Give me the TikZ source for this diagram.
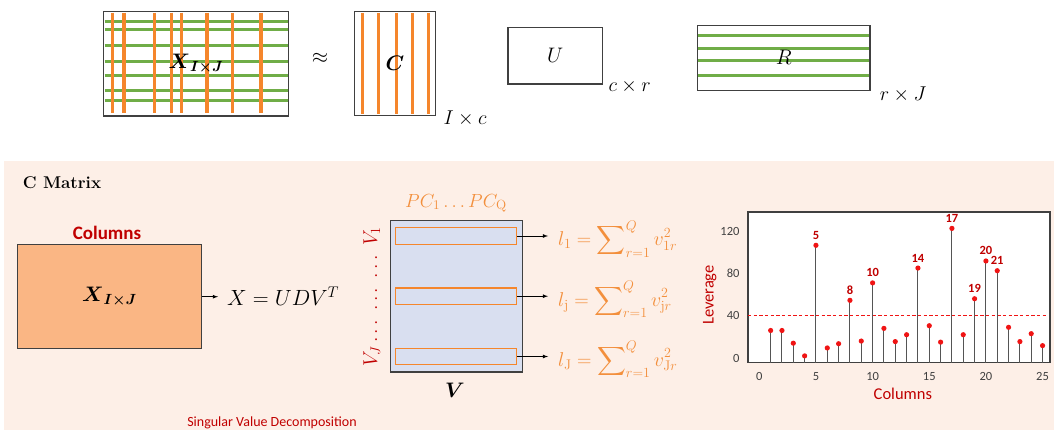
\RequirePackage{fix-cm}
\documentclass[tikz,border=0pt]{standalone}
\usepackage{amsmath, amssymb}
\usepackage{fontspec}
\setsansfont{Carlito}
\usetikzlibrary{positioning}

\definecolor{stripegreen}{RGB}{112,173,71}
\definecolor{stripeorange}{RGB}{245,134,44}
\definecolor{peach}{RGB}{253,239,231}
\definecolor{boxorange}{RGB}{250,182,132}
\definecolor{vblue}{RGB}{217,223,240}
\definecolor{darkred}{RGB}{192,0,0}
\definecolor{formorange}{RGB}{243,143,60}
\definecolor{framegray}{RGB}{64,64,64}
\definecolor{stemgray}{RGB}{85,85,85}
\definecolor{dotred}{RGB}{240,20,20}

\begin{document}
\begin{tikzpicture}[
    x=1pt, y=-1pt,
    matbox/.style={draw=framegray, line width=1.3pt, inner sep=0pt},
    greenline/.style={stripegreen, line width=3pt},
    orangeline/.style={stripeorange, line width=3.2pt},
    arrow/.style={-latex, line width=0.8pt},
    dimlabel/.style={font=\fontsize{20}{24}\selectfont, inner sep=0pt},
    bigmath/.style={font=\fontsize{21}{25}\selectfont},
    rowbox/.style={draw=stripeorange, line width=1.2pt, minimum width=121pt, minimum height=16.5pt, inner sep=0pt},
    lev/.style={text=formorange, font=\fontsize{20}{24}\selectfont, inner xsep=10pt, anchor=base west},
    redlabel/.style={text=darkred, font=\sffamily\bfseries\fontsize{12.5}{14}\selectfont},
    tick/.style={text=framegray, font=\sffamily\fontsize{12.5}{14}\selectfont},
    axislabel/.style={text=darkred, font=\sffamily\fontsize{16.5}{19}\selectfont},
    stem/.style={stemgray, line width=1pt},
    limitdash/.style={dotred, line width=1.1pt},
]
\useasboundingbox (0,0) rectangle (1054,430);

% top: X ~ C U R
\foreach \y in {22,29.3,46,61.3,76,90.3,100.7}
    \draw[greenline] (104.5,\y) -- (287.5,\y);
\foreach \x in {112.7,124,154.3,171.7,181.7,207,232.3,261}
    \draw[orangeline] (\x,12.7) -- (\x,113);
\node[matbox, bigmath, minimum width=185.4pt, minimum height=104.3pt] (X) at (196,63.9) {$\boldsymbol{X}_{\boldsymbol{I\times J}}$};
\node[bigmath] (approx) at (320,58) {$\approx$};

\foreach \x in {362.7,378.7,396.7,412.7,428.7}
    \draw[orangeline] (\x,13) -- (\x,114);
\node[matbox, bigmath, minimum width=81.4pt, minimum height=103.6pt] (C) at (395,63.5) {$\boldsymbol{C}$};
\node[dimlabel, right=7pt of C.south east, yshift=-3pt] (Cdim) {$I\times c$};

\node[matbox, bigmath, minimum width=94.7pt, minimum height=56.7pt] (U) at (555.3,55.7) {$U$};
\node[dimlabel, right=5pt of U.south east, yshift=-2pt] (Udim) {$c\times r$};

\foreach \y in {36,49,60.7,76}
    \draw[greenline] (698,\y) -- (869.3,\y);
\node[matbox, bigmath, minimum width=172.7pt, minimum height=65pt] (R) at (783.7,57.8) {$R$};
\node[dimlabel, right=9pt of R.south east, yshift=-3.5pt] (Rdim) {$r\times J$};

% bottom: C matrix selection
\fill[peach] (4,161) rectangle (1054,430);
\node[font=\bfseries\fontsize{17}{20}\selectfont] (title) at (62,183) {C Matrix};

\node[text=darkred, font=\sffamily\bfseries\fontsize{19}{22}\selectfont] (cols) at (107,232.7) {Columns};
\node[matbox, bigmath, fill=boxorange, minimum width=183.6pt, minimum height=104pt] (Xbox) at (109.5,296.7) {$\boldsymbol{X}_{\boldsymbol{I\times J}}$};
\node[font=\fontsize{22}{26}\selectfont, anchor=west, inner xsep=9pt] (svd) at (218,296.7) {$X = UDV^T$};
\draw[arrow] (Xbox) -- (svd);
\node[text=darkred, font=\sffamily\fontsize{14}{16}\selectfont] (svdname) at (272,423) {Singular Value Decomposition};

\node[matbox, fill=vblue, line width=1.5pt, minimum width=132pt, minimum height=151.3pt] (V) at (456.7,296.3) {};
\node[rowbox] (row1) at (456.2,236) {};
\node[rowbox] (row2) at (456.2,296.2) {};
\node[rowbox] (row3) at (456.2,356.5) {};
\node[lev] (lev1) at (548,246) {$l_1 = \displaystyle\sum\nolimits_{r=1}^{Q} v_{1r}^2$};
\node[lev] (lev2) at (548,306) {$l_{\mathrm{j}} = \displaystyle\sum\nolimits_{r=1}^{Q} v_{\mathrm{j}r}^2$};
\node[lev] (lev3) at (548,366) {$l_{\mathrm{J}} = \displaystyle\sum\nolimits_{r=1}^{Q} v_{\mathrm{J}r}^2$};
\foreach \i in {1,2,3}
    \draw[arrow] (row\i.east) -- (row\i.east -| lev\i.west);
\node[text=formorange, font=\fontsize{19}{22}\selectfont] (pc) at (456,203.3) {$PC_1 \ldots PC_{\mathrm{Q}}$};
\node[bigmath] (Vname) at (455,390) {$\boldsymbol{V}$};
\node[text=darkred, rotate=90, font=\fontsize{20}{24}\selectfont] (vrows) at (371.7,297) {$V_J \ldots\ \ldots\ \ldots\ V_1$};

% leverage plot
\begin{scope}[shift={(759.3,358)}, x=11.33pt, y=1.058pt]
    \draw[fill=white, draw=framegray, line width=1.2pt] (-1.0,-4.4) rectangle (25.65,138);
    \foreach \d in {-1.0,-0.5,...,25.3}
        \draw[limitdash] (\d,40) -- (\d+0.3,40);
    \foreach \c/\v in {1/26,2/26,3/14,4/2,5/106.5,6/9.5,7/13.5,8/54.5,9/16,10/71,
                       11/28,12/15.5,13/22,14/85,15/30.5,16/15,17/122.5,18/22,19/56,
                       20/91.7,21/82.5,22/29,23/15.5,24/23,25/11.7} {
        \draw[stem] (\c,-4.4) -- (\c,\v);
        \fill[dotred] (\c,\v) circle[radius=2.6pt];
    }
    \foreach \c/\v in {5/106.5,8/54.5,10/71,14/85,17/122.5,19/56,20/91.7,21/82.5}
        \node[redlabel, anchor=south, yshift=2.5pt] (lab\c) at (\c,\v) {\c};
    \foreach \t in {0,40,80,120}
        \node[tick, anchor=east] (yt\t) at (-1.44,\t) {\t};
    \foreach \t in {0,5,...,25}
        \node[tick] (xt\t) at (\t,-17.7) {\t};
    \node[axislabel] (xname) at (12.67,-33.4) {Columns};
    \node[axislabel, rotate=90] (yname) at (-4.37,59.5) {Leverage};
\end{scope}
\end{tikzpicture}
\end{document}
